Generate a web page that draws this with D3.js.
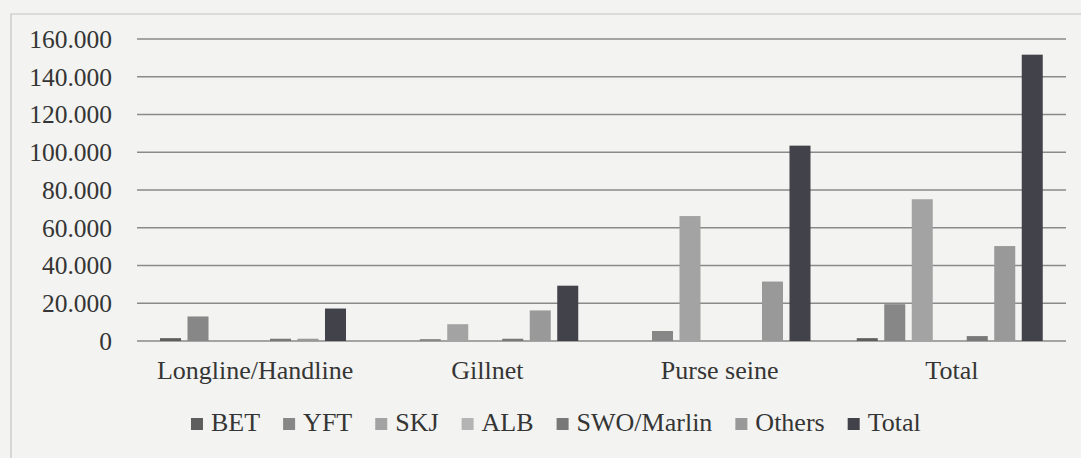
<!DOCTYPE html>
<html>
<head>
<meta charset="UTF-8">
<title>Catch by gear</title>
<script src="https://d3js.org/d3.v7.min.js"></script>
<style>
  body { margin: 0; background: #f3f3f1; }
</style>
</head>
<body>
<div id="chart"></div>
<script>
  const gears = ["Longline/Handline", "Gillnet", "Purse seine", "Total"];
  const species = ["BET", "YFT", "SKJ", "ALB", "SWO/Marlin", "Others", "Total"];

  // one array per species, in gear order
  const bet    = [1500, 0, 0, 1500];
  const yft    = [13000, 1000, 5300, 19500];
  const skj    = [0, 8900, 66200, 75100];
  const alb    = [0, 0, 0, 0];
  const swo    = [1200, 1200, 0, 2600];
  const others = [1200, 16200, 31500, 50300];
  const total  = [17200, 29300, 103500, 151700];

  const yTicks = [0, 20000, 40000, 60000, 80000, 100000, 120000, 140000, 160000];
  const tickLabels = ["0", "20.000", "40.000", "60.000", "80.000", "100.000", "120.000", "140.000", "160.000"];

  const seriesValues = [bet, yft, skj, alb, swo, others, total];
  const colors = ["#5e5e5e", "#878787", "#a3a3a3", "#b4b4b4", "#787878", "#999999", "#42424a"];

  const W = 1081, H = 458;
  const plotLeft = 137, plotRight = 1066, plotTop = 39, zeroY = 341;
  const serif = "'Liberation Serif', 'Times New Roman', serif";

  const svg = d3.select("#chart").append("svg")
    .attr("width", W).attr("height", H)
    .style("font-family", serif);

  svg.append("rect").attr("width", W).attr("height", H).attr("fill", "#f3f3f1");
  // chart frame (scanned page edge)
  svg.append("path")
    .attr("d", `M11,${H} L11,14 L${W},14`)
    .attr("fill", "none").attr("stroke", "#c4c4c4").attr("stroke-width", 1.2);

  const x0 = d3.scaleBand().domain(gears).range([plotLeft, plotRight]);
  const x1 = d3.scaleBand().domain(species).range([23, 209]).paddingInner(0.236);
  const y = d3.scaleLinear().domain([0, 160000]).range([zeroY, plotTop]);

  // gridlines
  svg.append("g").selectAll("line")
    .data(yTicks)
    .enter().append("line")
    .attr("x1", plotLeft).attr("x2", plotRight)
    .attr("y1", d => y(d)).attr("y2", d => y(d))
    .attr("stroke", "#8a8a8a").attr("stroke-width", 1.4);

  // y tick labels
  svg.append("g").selectAll("text")
    .data(yTicks)
    .enter().append("text")
    .attr("x", 112).attr("y", d => y(d))
    .attr("dy", "0.35em")
    .attr("text-anchor", "end")
    .attr("font-family", serif)
    .attr("fill", "#353535")
    .style("font-size", "25.5px")
    .text((d, i) => tickLabels[i]);

  // bars
  const groups = svg.append("g").selectAll("g")
    .data(gears)
    .enter().append("g")
    .attr("transform", d => `translate(${x0(d)},0)`);

  groups.selectAll("rect")
    .data((g, gi) => species.map((s, si) => ({ s, si, v: seriesValues[si][gi] })))
    .enter().append("rect")
    .attr("x", d => x1(d.s))
    .attr("width", x1.bandwidth())
    .attr("y", d => y(d.v))
    .attr("height", d => zeroY - y(d.v))
    .attr("fill", d => colors[d.si]);

  // category labels
  svg.append("g").selectAll("text")
    .data(gears)
    .enter().append("text")
    .attr("x", d => x0(d) + x0.bandwidth() / 2 + 2)
    .attr("y", 379)
    .attr("text-anchor", "middle")
    .attr("font-family", serif)
    .attr("fill", "#353535")
    .style("font-size", "26px")
    .text(d => d);

  // legend
  const legend = svg.append("g");
  let lx = 191;
  species.forEach((s, i) => {
    legend.append("rect")
      .attr("x", lx).attr("y", 418)
      .attr("width", 12).attr("height", 12)
      .attr("fill", colors[i]);
    const t = legend.append("text")
      .attr("x", lx + 20).attr("y", 431)
      .attr("font-family", serif)
      .attr("fill", "#353535")
      .style("font-size", "26px")
      .text(s);
    lx += 20 + t.node().getComputedTextLength() + 23;
  });
</script>
</body>
</html>
